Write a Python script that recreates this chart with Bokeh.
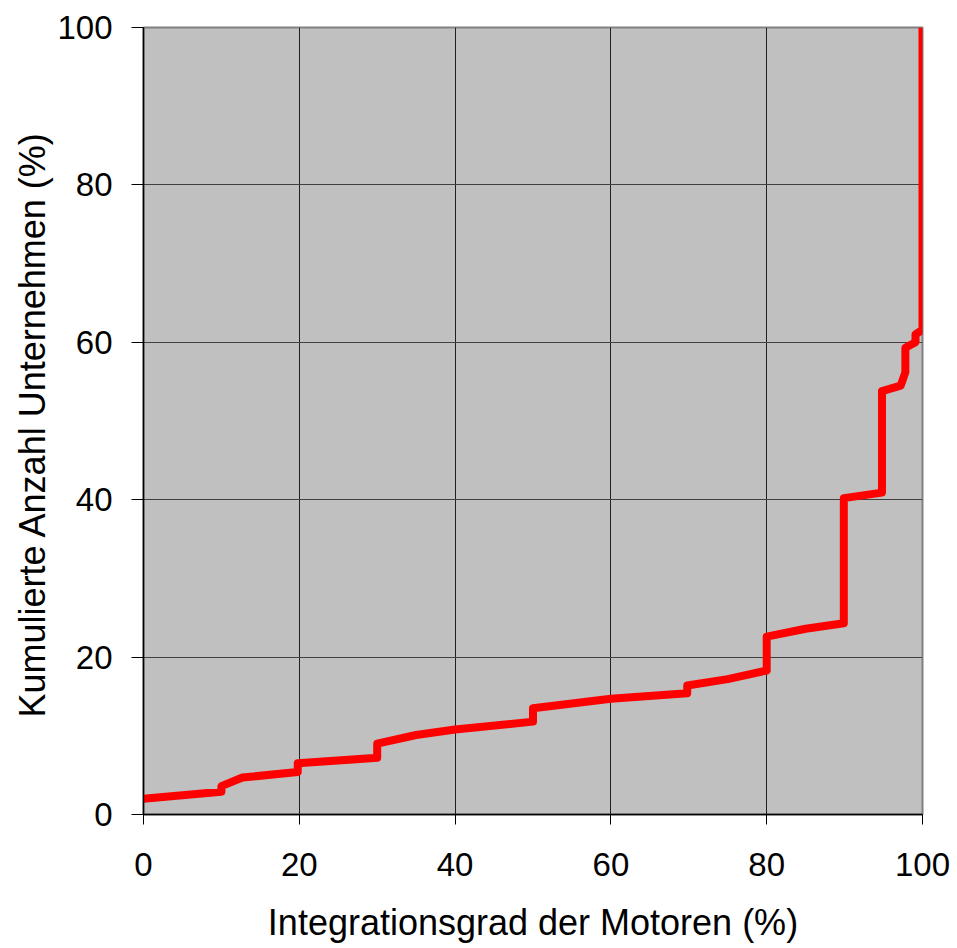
from bokeh.plotting import figure
from bokeh.models import Range1d, FixedTicker, Title
from bokeh.embed import file_html
from bokeh.resources import INLINE

# Data
integration = [0, 0, 10, 10, 12.7, 19.8, 19.8, 30, 30, 35, 40, 50, 50, 60, 69.8, 69.8,
               75, 80, 80, 85, 89.9, 89.9, 94.8, 94.8, 97.2, 97.8, 97.8, 99.1, 99.1, 100, 100]
cumulative = [1.5, 2.0, 2.9, 3.6, 4.7, 5.4, 6.5, 7.2, 9.0, 10.1, 10.8, 11.8, 13.5, 14.7, 15.4, 16.4,
              17.2, 18.3, 22.6, 23.6, 24.3, 40.2, 40.9, 53.8, 54.5, 56.2, 59.3, 60.0, 61.0, 61.6, 100]
x_ticks = [0, 20, 40, 60, 80, 100]
y_ticks = [0, 20, 40, 60, 80, 100]
x_title = "Integrationsgrad der Motoren (%)"
y_title = "Kumulierte Anzahl Unternehmen (%)"

p = figure(width=950, height=945, output_backend="svg", toolbar_location=None,
           x_range=Range1d(0, 100), y_range=Range1d(0, 100),
           min_border_left=143, min_border_right=28, min_border_top=27, min_border_bottom=130)

p.background_fill_color = "#C0C0C0"
p.border_fill_color = "white"
p.outline_line_color = "#808080"
p.outline_line_width = 2

p.xgrid.ticker = FixedTicker(ticks=x_ticks)
p.ygrid.ticker = FixedTicker(ticks=y_ticks)
p.xgrid.grid_line_color = "#202020"
p.ygrid.grid_line_color = "#404040"
p.xgrid.grid_line_width = 1
p.ygrid.grid_line_width = 1

for ax in (p.xaxis[0], p.yaxis[0]):
    ax.axis_line_color = "black"
    ax.axis_line_width = 1.5
    ax.major_tick_line_color = "black"
    ax.major_tick_in = 0
    ax.minor_tick_line_color = None
    ax.major_label_text_font = "Liberation Sans"
    ax.major_label_text_font_size = "33px"
    ax.major_label_text_color = "black"
    ax.axis_label_text_font = "Liberation Sans"
    ax.axis_label_text_font_size = "36px"
    ax.axis_label_text_font_style = "normal"
    ax.axis_label_text_color = "black"

p.xaxis.ticker = FixedTicker(ticks=x_ticks)
p.yaxis.ticker = FixedTicker(ticks=y_ticks)
p.xaxis.major_tick_out = 10
p.yaxis.major_tick_out = 12
p.xaxis.major_label_standoff = 28
p.yaxis.major_label_standoff = 19
p.xaxis.axis_label = x_title
p.xaxis.axis_label_standoff = 23

ytitle = Title(text=y_title, align="left", offset=97, standoff=4,
               text_font="Liberation Sans", text_font_size="36px",
               text_font_style="normal", text_color="black")
p.add_layout(ytitle, "left")

p.line(integration, cumulative, line_color="#FF0000", line_width=8, line_join="round")

open("out.html", "w").write(file_html(p, INLINE))
